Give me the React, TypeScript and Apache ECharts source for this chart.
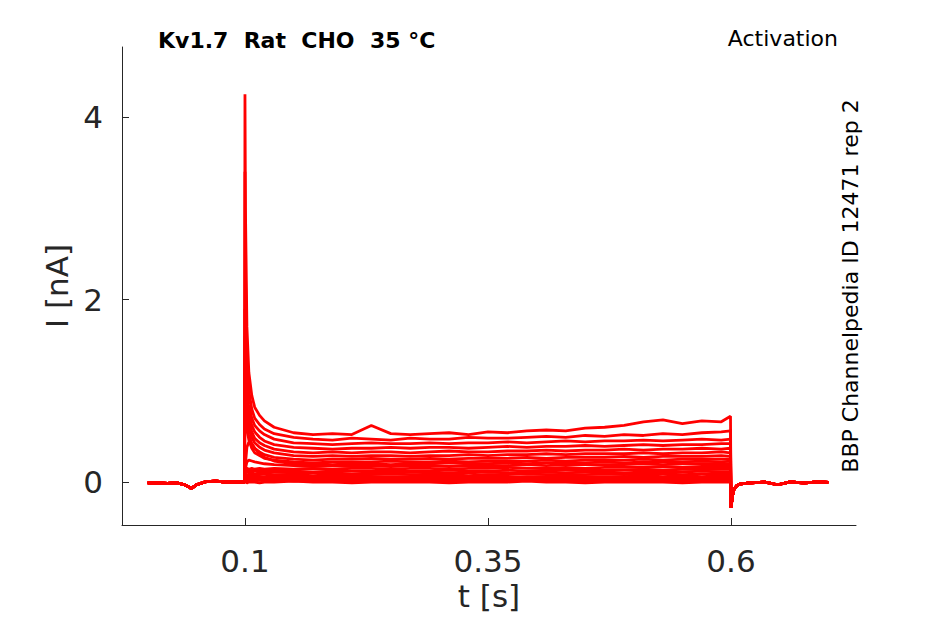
import React, { useEffect, useRef } from "react";
import * as echarts from "echarts";

// Time grids (s)
const preT = [0, 0.01, 0.02, 0.03, 0.038, 0.045, 0.05, 0.06, 0.07, 0.08, 0.09, 0.0995];
const preI = [-0.01, -0.01, -0.015, -0.01, -0.03, -0.07, -0.03, 0.005, 0.01, 0.0, 0.005, 0.0];

const stepT = [0.1, 0.1005, 0.102, 0.104, 0.107, 0.11, 0.115, 0.12, 0.13, 0.15, 0.17, 0.19, 0.21, 0.23, 0.25, 0.27, 0.29, 0.31, 0.33, 0.35, 0.37, 0.39, 0.41, 0.43, 0.45, 0.47, 0.49, 0.51, 0.53, 0.55, 0.57, 0.59, 0.5995];

const postT = [0.6, 0.6015, 0.603, 0.606, 0.61, 0.62, 0.635, 0.648, 0.66, 0.675, 0.69, 0.7];
const postI = [-0.28, -0.15, -0.08, -0.04, -0.02, -0.01, 0.0, -0.03, 0.0, -0.01, 0.0, -0.005];

// Current during the step (nA), one array per sweep
const sweep01 = [4.25, 3.0, 1.7, 1.2, 0.95, 0.82, 0.73, 0.67, 0.6, 0.54, 0.52, 0.53, 0.52, 0.62, 0.53, 0.52, 0.53, 0.54, 0.52, 0.55, 0.54, 0.56, 0.57, 0.56, 0.59, 0.6, 0.62, 0.66, 0.68, 0.64, 0.67, 0.66, 0.72];
const sweep02 = [3.4, 2.3, 1.4, 1.0, 0.8, 0.7, 0.63, 0.58, 0.53, 0.49, 0.47, 0.46, 0.48, 0.47, 0.46, 0.48, 0.47, 0.47, 0.49, 0.48, 0.48, 0.49, 0.5, 0.49, 0.51, 0.5, 0.52, 0.51, 0.53, 0.52, 0.54, 0.55, 0.56];
const sweep03 = [1.9, 1.5, 1.05, 0.85, 0.7, 0.62, 0.56, 0.52, 0.47, 0.43, 0.42, 0.41, 0.42, 0.43, 0.42, 0.42, 0.43, 0.42, 0.43, 0.43, 0.44, 0.43, 0.44, 0.45, 0.44, 0.45, 0.45, 0.46, 0.45, 0.46, 0.47, 0.46, 0.47];
const sweep04 = [1.6, 1.3, 0.95, 0.75, 0.62, 0.55, 0.49, 0.45, 0.41, 0.38, 0.37, 0.36, 0.37, 0.37, 0.38, 0.37, 0.38, 0.38, 0.37, 0.38, 0.39, 0.38, 0.39, 0.39, 0.4, 0.39, 0.4, 0.41, 0.4, 0.41, 0.41, 0.42, 0.42];
const sweep05 = [1.3, 1.1, 0.85, 0.67, 0.55, 0.48, 0.43, 0.4, 0.36, 0.33, 0.32, 0.33, 0.32, 0.33, 0.33, 0.32, 0.33, 0.34, 0.33, 0.33, 0.34, 0.34, 0.35, 0.34, 0.35, 0.35, 0.36, 0.35, 0.36, 0.36, 0.37, 0.36, 0.37];
const sweep06 = [1.1, 0.95, 0.75, 0.6, 0.49, 0.43, 0.38, 0.35, 0.32, 0.29, 0.28, 0.29, 0.28, 0.29, 0.29, 0.28, 0.29, 0.29, 0.3, 0.29, 0.3, 0.3, 0.31, 0.3, 0.31, 0.31, 0.31, 0.32, 0.31, 0.32, 0.32, 0.33, 0.32];
const sweep07 = [0.95, 0.85, 0.66, 0.52, 0.42, 0.37, 0.33, 0.3, 0.27, 0.25, 0.24, 0.25, 0.25, 0.26, 0.25, 0.25, 0.26, 0.25, 0.26, 0.26, 0.26, 0.27, 0.26, 0.27, 0.27, 0.27, 0.28, 0.27, 0.28, 0.28, 0.28, 0.29, 0.28];
const sweep08 = [0.85, 0.75, 0.58, 0.46, 0.37, 0.32, 0.29, 0.26, 0.24, 0.22, 0.21, 0.22, 0.22, 0.22, 0.23, 0.22, 0.22, 0.23, 0.22, 0.23, 0.23, 0.23, 0.24, 0.23, 0.24, 0.24, 0.24, 0.25, 0.24, 0.25, 0.25, 0.25, 0.25];
const sweep09 = [0.1, 0.2, 0.38, 0.44, 0.42, 0.37, 0.31, 0.27, 0.23, 0.2, 0.2, 0.19, 0.2, 0.2, 0.19, 0.2, 0.2, 0.21, 0.2, 0.2, 0.21, 0.2, 0.21, 0.21, 0.21, 0.22, 0.21, 0.22, 0.22, 0.22, 0.23, 0.22, 0.23];
const sweep10 = [0.08, 0.15, 0.22, 0.24, 0.23, 0.22, 0.21, 0.2, 0.19, 0.18, 0.17, 0.18, 0.17, 0.18, 0.17, 0.18, 0.18, 0.17, 0.18, 0.18, 0.18, 0.19, 0.18, 0.19, 0.19, 0.19, 0.19, 0.2, 0.19, 0.2, 0.2, 0.2, 0.2];
const sweep11 = [0.14, 0.15, 0.15, 0.14, 0.15, 0.14, 0.15, 0.14, 0.15, 0.14, 0.15, 0.14, 0.15, 0.15, 0.14, 0.15, 0.15, 0.14, 0.15, 0.15, 0.16, 0.15, 0.15, 0.16, 0.15, 0.16, 0.16, 0.16, 0.17, 0.16, 0.17, 0.17, 0.17];
const sweep12 = [0.12, 0.12, 0.12, 0.12, 0.12, 0.12, 0.12, 0.12, 0.12, 0.12, 0.11, 0.12, 0.12, 0.12, 0.12, 0.12, 0.12, 0.13, 0.12, 0.12, 0.13, 0.12, 0.13, 0.13, 0.13, 0.13, 0.13, 0.14, 0.13, 0.14, 0.14, 0.14, 0.14];
const sweep13 = [0.1, 0.1, 0.11, 0.1, 0.1, 0.09, 0.1, 0.1, 0.11, 0.1, 0.1, 0.1, 0.09, 0.1, 0.1, 0.11, 0.1, 0.1, 0.1, 0.11, 0.1, 0.1, 0.11, 0.1, 0.11, 0.11, 0.1, 0.11, 0.11, 0.11, 0.12, 0.11, 0.11];
const sweep14 = [0.08, 0.08, 0.08, 0.07, 0.08, 0.08, 0.08, 0.09, 0.08, 0.08, 0.07, 0.08, 0.08, 0.08, 0.09, 0.08, 0.08, 0.08, 0.07, 0.08, 0.08, 0.09, 0.08, 0.08, 0.08, 0.09, 0.08, 0.09, 0.09, 0.08, 0.09, 0.09, 0.09];
const sweep15 = [0.06, 0.06, 0.06, 0.06, 0.05, 0.06, 0.06, 0.06, 0.07, 0.06, 0.06, 0.05, 0.06, 0.06, 0.06, 0.06, 0.07, 0.06, 0.06, 0.06, 0.05, 0.06, 0.06, 0.07, 0.06, 0.06, 0.06, 0.07, 0.06, 0.07, 0.06, 0.07, 0.07];
const sweep16 = [0.04, 0.05, 0.04, 0.05, 0.04, 0.04, 0.05, 0.04, 0.04, 0.05, 0.04, 0.04, 0.05, 0.04, 0.04, 0.04, 0.05, 0.04, 0.04, 0.05, 0.04, 0.05, 0.04, 0.04, 0.05, 0.04, 0.05, 0.05, 0.04, 0.05, 0.05, 0.05, 0.05];
const sweep17 = [0.03, 0.03, 0.02, 0.03, 0.03, 0.03, 0.02, 0.03, 0.03, 0.03, 0.03, 0.02, 0.03, 0.03, 0.04, 0.03, 0.03, 0.02, 0.03, 0.03, 0.03, 0.03, 0.04, 0.03, 0.03, 0.03, 0.03, 0.03, 0.04, 0.03, 0.03, 0.04, 0.03];
const sweep18 = [0.01, 0.02, 0.01, 0.02, 0.01, 0.01, 0.02, 0.01, 0.02, 0.01, 0.01, 0.02, 0.01, 0.01, 0.02, 0.01, 0.02, 0.01, 0.01, 0.02, 0.01, 0.02, 0.01, 0.02, 0.01, 0.02, 0.01, 0.02, 0.02, 0.01, 0.02, 0.02, 0.02];
const sweep19 = [0, 0, -0.01, 0, 0, 0, -0.01, 0, 0, 0.01, 0, 0, -0.01, 0, 0, 0, 0, -0.01, 0, 0, 0, 0.01, 0, 0, -0.01, 0, 0, 0, 0, -0.01, 0, 0, 0];

const sweeps = [sweep01, sweep02, sweep03, sweep04, sweep05, sweep06, sweep07, sweep08, sweep09, sweep10, sweep11, sweep12, sweep13, sweep14, sweep15, sweep16, sweep17, sweep18, sweep19];

const xTicks = [0.1, 0.35, 0.6];
const yTicks = [0, 2, 4];

const titleText = "Kv1.7  Rat  CHO  35 °C";
const protocolText = "Activation";
const sideText = "BBP Channelpedia ID 12471 rep 2";

function buildSeries(step: number[]) {
  const pts: [number, number][] = [];
  preT.forEach((t, i) => pts.push([t, preI[i]]));
  stepT.forEach((t, i) => pts.push([t, step[i]]));
  postT.forEach((t, i) => pts.push([t, postI[i]]));
  return pts;
}

export default function App() {
  const ref = useRef<HTMLDivElement>(null);
  useEffect(() => {
    document.body.style.margin = "0";
    if (!ref.current) return;
    const chart = echarts.init(ref.current, null, { renderer: "svg" });
    const font = "DejaVu Sans";
    const axisColor = "#262626";
    chart.setOption({
      animation: false,
      backgroundColor: "#ffffff",
      grid: { left: 122, right: 89, top: 47, bottom: 99, containLabel: false },
      xAxis: {
        type: "value",
        min: -0.0265,
        max: 0.7286,
        name: "t [s]",
        nameLocation: "middle",
        nameGap: 53,
        nameTextStyle: { fontFamily: font, fontSize: 31, color: axisColor },
        axisLine: { show: true, onZero: false, lineStyle: { color: axisColor, width: 1 } },
        axisTick: { show: true, inside: true, length: 7, customValues: xTicks, lineStyle: { color: axisColor } },
        axisLabel: {
          customValues: xTicks,
          fontFamily: font,
          fontSize: 31,
          color: axisColor,
          margin: 20,
          formatter: (v: number) => String(v),
        },
        splitLine: { show: false },
      },
      yAxis: {
        type: "value",
        min: -0.471,
        max: 4.767,
        name: "I [nA]",
        nameLocation: "middle",
        nameGap: 46,
        nameTextStyle: { fontFamily: font, fontSize: 31, color: axisColor },
        axisLine: { show: true, onZero: false, lineStyle: { color: axisColor, width: 1 } },
        axisTick: { show: true, inside: true, length: 7, customValues: yTicks, lineStyle: { color: axisColor } },
        axisLabel: {
          customValues: yTicks,
          fontFamily: font,
          fontSize: 31,
          color: axisColor,
          margin: 19,
          formatter: (v: number) => String(v),
        },
        splitLine: { show: false },
      },
      graphic: [
        {
          type: "text",
          left: 158,
          top: 29,
          style: { text: titleText, fontFamily: font, fontSize: 22, fontWeight: "bold", fill: "#000000" },
        },
        {
          type: "text",
          right: 107,
          top: 27,
          style: { text: protocolText, fontFamily: font, fontSize: 22, fill: "#000000" },
        },
        {
          type: "text",
          x: 850,
          y: 286,
          rotation: Math.PI / 2,
          style: {
            text: sideText,
            fontFamily: font,
            fontSize: 22,
            fill: "#000000",
            align: "center",
            verticalAlign: "middle",
          },
        },
      ],
      series: sweeps.map((s) => ({
        type: "line",
        data: buildSeries(s),
        showSymbol: false,
        symbol: "none",
        lineStyle: { color: "#ff0000", width: 2.8 },
        silent: true,
        z: 2,
      })),
    });
    return () => chart.dispose();
  }, []);
  return <div ref={ref} style={{ width: 945, height: 624 }} />;
}
